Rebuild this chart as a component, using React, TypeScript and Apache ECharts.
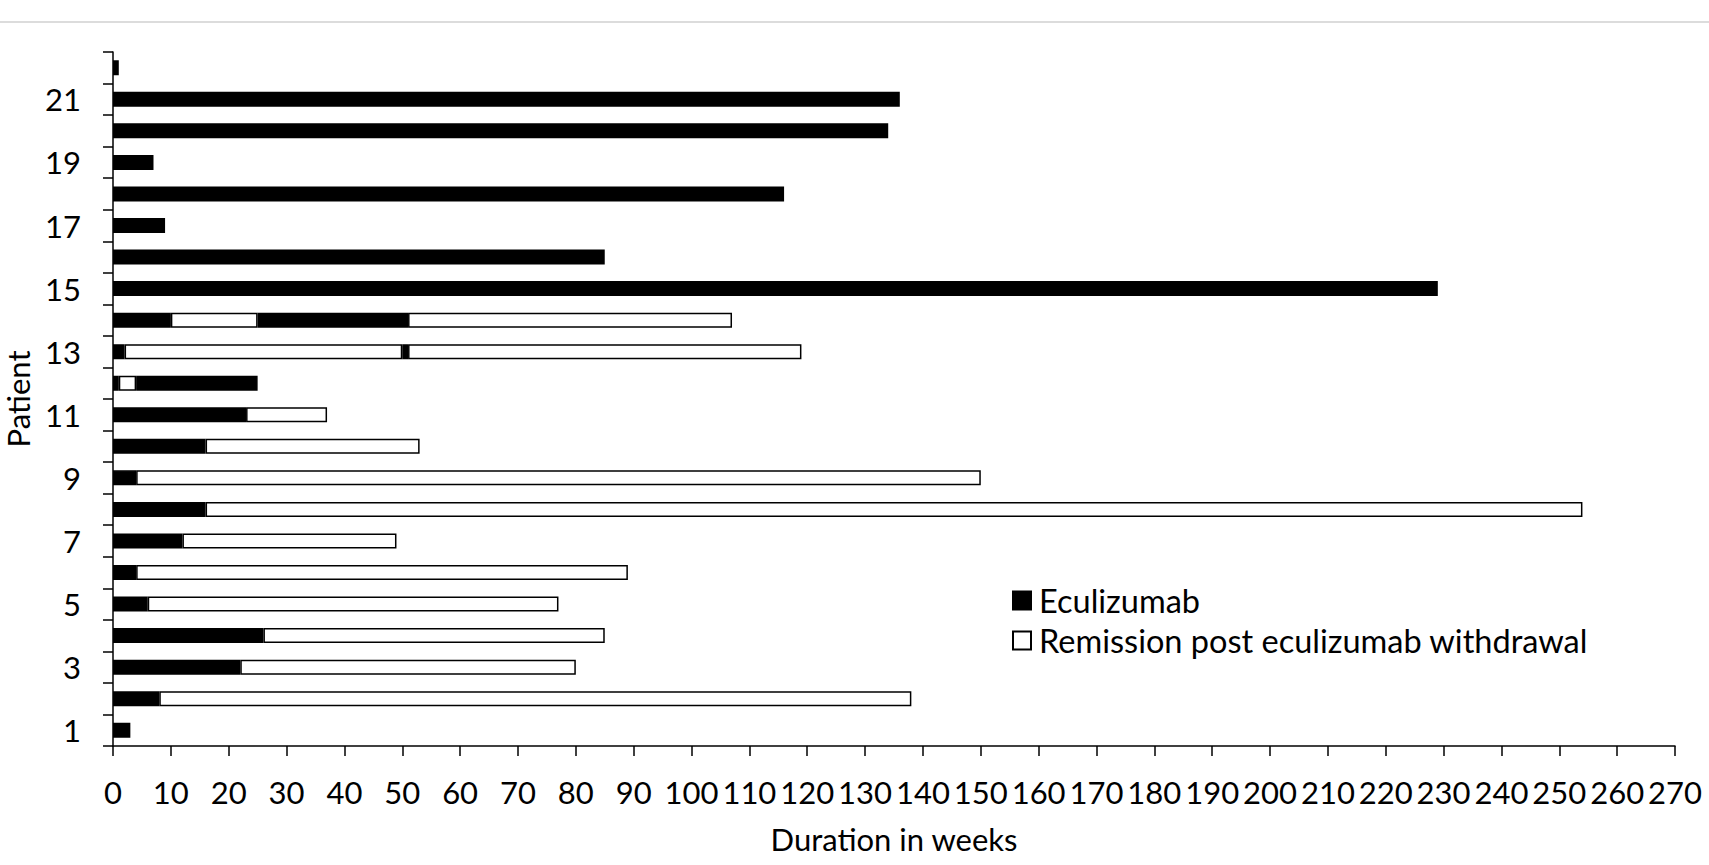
import React, { useEffect, useRef } from "react";
import * as echarts from "echarts";

const patients = ["1","2","3","4","5","6","7","8","9","10","11","12","13","14","15","16","17","18","19","20","21","22"];
// segment lengths in weeks (stacked left to right)
const eculizumabA = [3, 8, 22, 26, 6, 4, 12, 16, 4, 16, 23, 1, 2, 10, 229, 85, 9, 116, 7, 134, 136, 1];
const remissionA = [null, 130, 58, 59, 71, 85, 37, 238, 146, 37, 14, 3, 48, 15, null, null, null, null, null, null, null, null];
const eculizumabB = [null, null, null, null, null, null, null, null, null, null, null, 21, 1, 26, null, null, null, null, null, null, null, null];
const remissionB = [null, null, null, null, null, null, null, null, null, null, null, null, 68, 56, null, null, null, null, null, null, null, null];

const xMin = 0;
const xMax = 270;
const xStep = 10;

const FONT = "Lato";

export default function App() {
  const ref = useRef<HTMLDivElement>(null);
  useEffect(() => {
    if (!ref.current) return;
    const chart = echarts.init(ref.current, null, { renderer: "svg" });
    const black = { color: "#000", borderColor: "#000", borderWidth: 1.5 };
    const white = { color: "#fff", borderColor: "#000", borderWidth: 1.5 };
    const barW = 15;
    chart.setOption({
      animation: false,
      backgroundColor: "#fff",
      textStyle: { fontFamily: FONT, color: "#000" },
      grid: { left: 113, right: 34, top: 52, bottom: 119, containLabel: false, outerBoundsMode: "none" },
      graphic: [
        {
          type: "line",
          shape: { x1: 0, y1: 22, x2: 1709, y2: 22 },
          style: { stroke: "#dcdcdc", lineWidth: 2 },
        },
      ],
      legend: {
        orient: "vertical",
        left: 1007,
        top: 579,
        itemWidth: 18,
        itemHeight: 18,
        itemGap: 7,
        icon: "rect",
        selectedMode: false,
        data: ["Eculizumab", "Remission post eculizumab withdrawal"],
        textStyle: { fontFamily: FONT, fontSize: 32.5, color: "#000", padding: [0, 0, 0, 3] },
      },
      xAxis: {
        type: "value",
        min: xMin,
        max: xMax,
        interval: xStep,
        name: "Duration in weeks",
        nameLocation: "middle",
        nameGap: 77,
        nameTextStyle: { fontFamily: FONT, fontSize: 31, color: "#000" },
        axisLine: { show: true, lineStyle: { color: "#000", width: 1.5 } },
        axisTick: { show: true, length: 10, lineStyle: { color: "#000", width: 1.5 } },
        axisLabel: { fontFamily: FONT, fontSize: 31, color: "#000", margin: 30 },
        splitLine: { show: false },
      },
      yAxis: {
        type: "category",
        data: patients,
        name: "Patient",
        nameLocation: "middle",
        nameGap: 80,
        nameTextStyle: { fontFamily: FONT, fontSize: 31, color: "#000" },
        axisLine: { show: true, lineStyle: { color: "#000", width: 1.5 } },
        axisTick: { show: true, length: 10, interval: 0, alignWithLabel: false, lineStyle: { color: "#000", width: 1.5 } },
        axisLabel: { fontFamily: FONT, fontSize: 31, color: "#000", interval: 1, margin: 32 },
      },
      series: [
        { name: "Eculizumab", type: "bar", stack: "t", barWidth: barW, itemStyle: black, data: eculizumabA },
        { name: "Remission post eculizumab withdrawal", type: "bar", stack: "t", barWidth: barW, itemStyle: white, data: remissionA },
        { name: "Eculizumab", type: "bar", stack: "t", barWidth: barW, itemStyle: black, data: eculizumabB },
        { name: "Remission post eculizumab withdrawal", type: "bar", stack: "t", barWidth: barW, itemStyle: white, data: remissionB },
      ],
    });
    return () => chart.dispose();
  }, []);
  return (
    <div
      ref={ref}
      style={{ position: "fixed", left: 0, top: 0, width: 1709, height: 865, background: "#fff" }}
    />
  );
}
